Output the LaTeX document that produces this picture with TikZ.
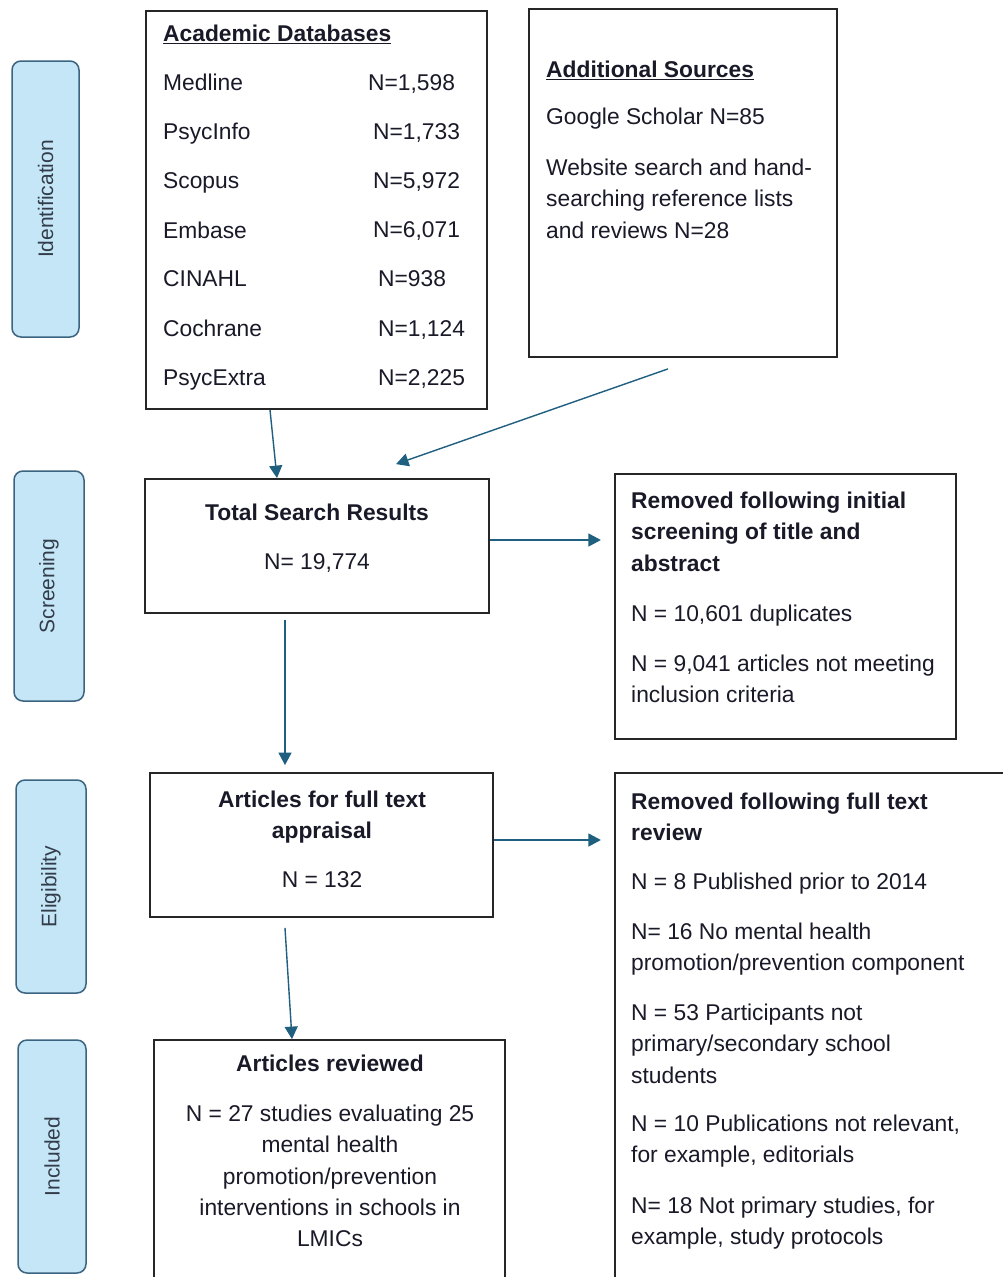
\documentclass[tikz,border=0pt]{standalone}
\usepackage{fontspec}
\setmainfont{Liberation Sans}
\usetikzlibrary{arrows.meta,positioning}
\definecolor{FlowBlue}{RGB}{31,95,128}
\definecolor{StageFill}{RGB}{197,230,246}
\definecolor{StageLine}{RGB}{58,100,128}
\definecolor{StageText}{RGB}{50,60,75}
\definecolor{BoxText}{RGB}{25,25,40}

\begin{document}
\begin{tikzpicture}[x=1pt,y=-1pt,
  stage/.style={draw=StageLine,fill=StageFill,line width=1.5pt,rounded corners=9pt,
                rotate=90,inner sep=0pt,text=StageText,font=\fontsize{21}{25}\selectfont},
  box/.style={draw=black!85,line width=1.8pt,inner sep=0pt},
  txt/.style={anchor=north west,align=left,inner sep=0pt,text=BoxText,
              font=\fontsize{22.8}{31.2}\selectfont},
  ctxt/.style={txt,anchor=north,align=center},
  flow/.style={-{Triangle[length=12.5pt,width=13pt]},FlowBlue,line width=1.4pt},
]
\clip (0,0) rectangle (1003,1277);
\fill[white] (0,0) rectangle (1003,1277);
% stages
\node[stage,minimum width=276pt,minimum height=67pt] (ident)  at (45.5,199)  {Identification};
\node[stage,minimum width=230pt,minimum height=70pt] (screen) at (49,586)    {Screening};
\node[stage,minimum width=213pt,minimum height=70pt] (elig)   at (51,886.5)  {Eligibility};
\node[stage,minimum width=233pt,minimum height=68pt] (incl)   at (52,1156.5) {Included};
% identification
\node[box,minimum width=341pt,minimum height=398pt] (acad) at (316.5,210) {};
\node[txt] (acadT) at (163,25) {\textbf{\underline{Academic Databases}}};
\foreach \dbname/\dbval/\dbx [count=\i from 0] in {Medline/{N=1,598}/368,
    PsycInfo/{N=1,733}/373, Scopus/{N=5,972}/373, Embase/{N=6,071}/373,
    CINAHL/{N=938}/378, Cochrane/{N=1,124}/378, PsycExtra/{N=2,225}/378}
  {\node[txt] (db\i) at (163,74+49.2*\i) {\dbname};
   \node[txt] (dbn\i) at (\dbx,74+49.2*\i) {\dbval};}
\node[box,minimum width=308pt,minimum height=348pt] (addl) at (683,183) {};
\node[txt] (addlT) at (546,61) {\textbf{\underline{Additional Sources}}};
\node[txt] (gs) at (546,108) {Google Scholar N=85};
\node[txt] (web) at (546,159) {Website search and hand-\\searching reference lists\\and reviews N=28};
% screening
\node[box,minimum width=344pt,minimum height=134pt] (total) at (317,546) {};
\node[ctxt] (totalT) at (317,504) {\textbf{Total Search Results}};
\node[ctxt] (totalN) at (317,553) {N= 19,774};
\node[box,minimum width=341pt,minimum height=265pt] (rem1) at (785.5,606.5) {};
\node[txt] (rem1T) at (631,492) {\textbf{Removed following initial}\\\textbf{screening of title and}\\\textbf{abstract}};
\node[txt] (dup) at (631,605) {N = 10,601 duplicates};
\node[txt] (incrit) at (631,655) {N = 9,041 articles not meeting\\inclusion criteria};
% eligibility
\node[box,minimum width=343pt,minimum height=144pt] (art) at (321.5,845) {};
\node[ctxt] (artT) at (322,791) {\textbf{Articles for full text}\\\textbf{appraisal}};
\node[ctxt] (artN) at (322,871) {N = 132};
\node[box,minimum width=395pt,minimum height=527pt] (rem2) at (812.5,1036.5) {};
\node[txt] (rem2T) at (631,793) {\textbf{Removed following full text}\\\textbf{review}};
\node[txt] (pub) at (631,873) {N = 8 Published prior to 2014};
\node[txt] (nomh) at (631,923) {N= 16 No mental health\\promotion/prevention component};
\node[txt] (part) at (631,1004) {N = 53 Participants not\\primary/secondary school\\students};
\node[txt] (nrel) at (631,1115) {N = 10 Publications not relevant,\\for example, editorials};
\node[txt] (nprim) at (631,1197) {N= 18 Not primary studies, for\\example, study protocols};
% included
\node[box,minimum width=351pt,minimum height=260pt] (rev) at (329.5,1170) {};
\node[ctxt] (revT) at (330,1055) {\textbf{Articles reviewed}};
\node[ctxt] (revN) at (330,1105) {N = 27 studies evaluating 25\\mental health\\promotion/prevention\\interventions in schools in\\LMICs};
% arrows
\draw[flow] ([xshift=-46.5pt]acad.south) -- ([xshift=-40pt]total.north);
\draw[flow] ([xshift=-15pt,yshift=-11pt]addl.south) -- ([xshift=79pt,yshift=14pt]total.north);
\draw[flow] ([yshift=6pt]total.east) -- ++(111,0);
\draw[flow] ([xshift=-32pt,yshift=-6pt]total.south) -- ([xshift=-36.5pt,yshift=7pt]art.north);
\draw[flow] ([yshift=5pt]art.east) -- ++(107,0);
\draw[flow] ([xshift=-36.5pt,yshift=-10pt]art.south) -- ([xshift=-37.5pt]rev.north);
\end{tikzpicture}
\end{document}
